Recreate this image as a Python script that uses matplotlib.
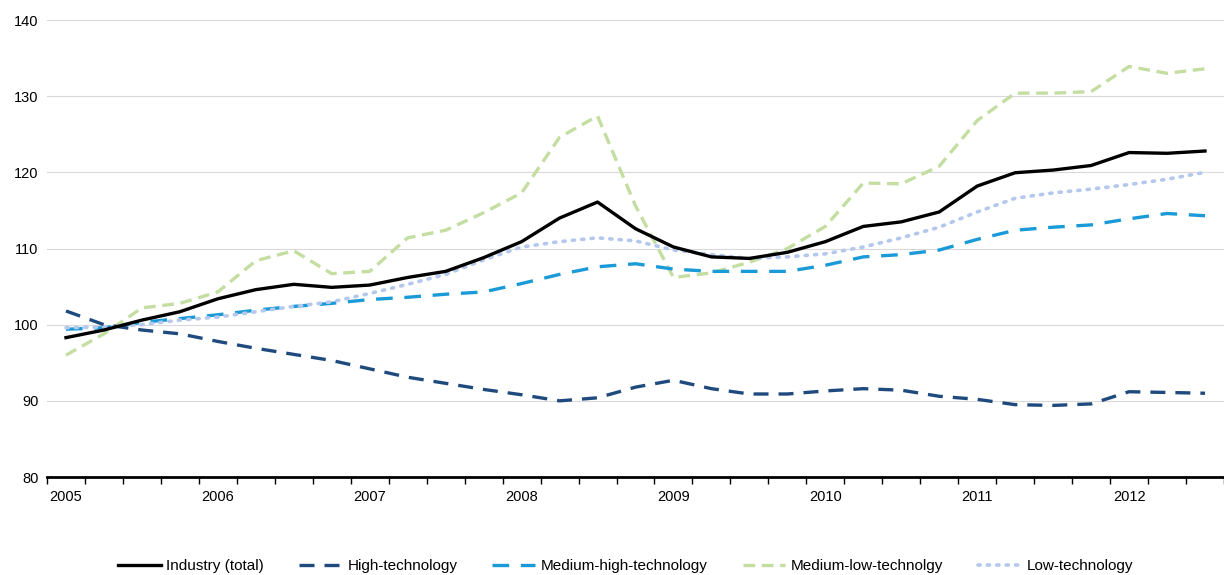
import matplotlib
matplotlib.use("Agg")
import matplotlib.pyplot as plt
import numpy as np

plt.rcParams['font.family'] = ['Liberation Sans', 'DejaVu Sans']

# quarterly index, 2005 Q1 .. 2012 Q3
years = ['2005', '2006', '2007', '2008', '2009', '2010', '2011', '2012']

industry = [98.3, 99.3, 100.6, 101.7, 103.4, 104.6, 105.3, 104.9, 105.2, 106.2,
            107.0, 108.8, 110.9, 114.0, 116.1, 112.6, 110.2, 108.9, 108.7, 109.5,
            110.9, 112.9, 113.5, 114.8, 118.2, 119.95, 120.3, 120.9, 122.6, 122.5, 122.8]
high_tech = [101.8, 100.0, 99.3, 98.8, 97.8, 96.9, 96.1, 95.3, 94.2, 93.1,
             92.3, 91.5, 90.8, 90.0, 90.4, 91.8, 92.7, 91.6, 90.9, 90.9,
             91.3, 91.6, 91.4, 90.6, 90.2, 89.5, 89.4, 89.6, 91.2, 91.1, 91.0]
med_high = [99.4, 99.6, 100.3, 100.8, 101.3, 101.9, 102.4, 102.8, 103.3, 103.6,
            104.0, 104.3, 105.4, 106.6, 107.6, 108.0, 107.3, 107.0, 107.0, 107.0,
            107.8, 108.9, 109.2, 109.8, 111.2, 112.4, 112.8, 113.1, 113.9, 114.6, 114.3]
med_low = [96.0, 98.8, 102.2, 102.8, 104.3, 108.4, 109.7, 106.7, 107.0, 111.4,
           112.4, 114.7, 117.3, 124.6, 127.4, 115.6, 106.2, 106.8, 108.2, 110.0,
           112.9, 118.6, 118.5, 120.8, 126.8, 130.4, 130.4, 130.6, 133.9, 133.0, 133.6]
low_tech = [99.6, 99.7, 100.0, 100.6, 101.0, 101.7, 102.4, 103.0, 104.1, 105.3,
            106.6, 108.5, 110.2, 110.9, 111.4, 111.0, 109.8, 109.2, 108.7, 108.9,
            109.3, 110.2, 111.4, 112.8, 114.8, 116.6, 117.3, 117.8, 118.4, 119.1, 120.0]

x = np.arange(len(industry))

fig = plt.figure(figsize=(12.24, 5.75), dpi=100)
ax = fig.add_axes([0.0384, 0.1704, 0.9616, 0.7948])

lw = 2.4
ax.plot(x, industry, color='black', lw=lw, label='Industry (total)', zorder=5)
ax.plot(x, high_tech, color='#1f4a7d', lw=lw, dashes=(4.5, 3), label='High-technology', zorder=4)
ax.plot(x, med_high, color='#1b9ad8', lw=lw, dashes=(5, 3.5), label='Medium-high-technology', zorder=3)
ax.plot(x, med_low, color='#c4dea2', lw=lw, dashes=(3.5, 2), label='Medium-low-technolgy', zorder=2)
ax.plot(x, low_tech, color='#b4c7ec', lw=2.6, dashes=(0.6, 2.0), dash_capstyle='round',
        label='Low-technology', zorder=3.5)

ax.set_ylim(80, 140)
ax.set_yticks(range(80, 141, 10))
ax.set_xlim(-0.5, 30.36)
ax.set_xticks(np.arange(0, len(x), 4))
ax.set_xticklabels(years)
ax.set_xticks(np.arange(-0.5, 31, 1), minor=True)
ax.tick_params(axis='x', which='major', length=0, pad=9, labelsize=10.5)
ax.tick_params(axis='x', which='minor', length=5, width=1, color='black', direction='out')
ax.tick_params(axis='y', length=0, pad=6, labelsize=10.5)

ax.grid(axis='y', color='#d9d9d9', lw=0.8)
ax.set_axisbelow(True)
for s in ['top', 'right', 'left']:
    ax.spines[s].set_visible(False)
ax.spines['bottom'].set_linewidth(2)
ax.spines['bottom'].set_zorder(6)

fig.legend(loc='center', bbox_to_anchor=(0.511, 0.015), ncol=5, frameon=False,
           fontsize=11, handlelength=2.8, columnspacing=2.3, handletextpad=0.35)

fig.savefig('out.png', dpi=100)
